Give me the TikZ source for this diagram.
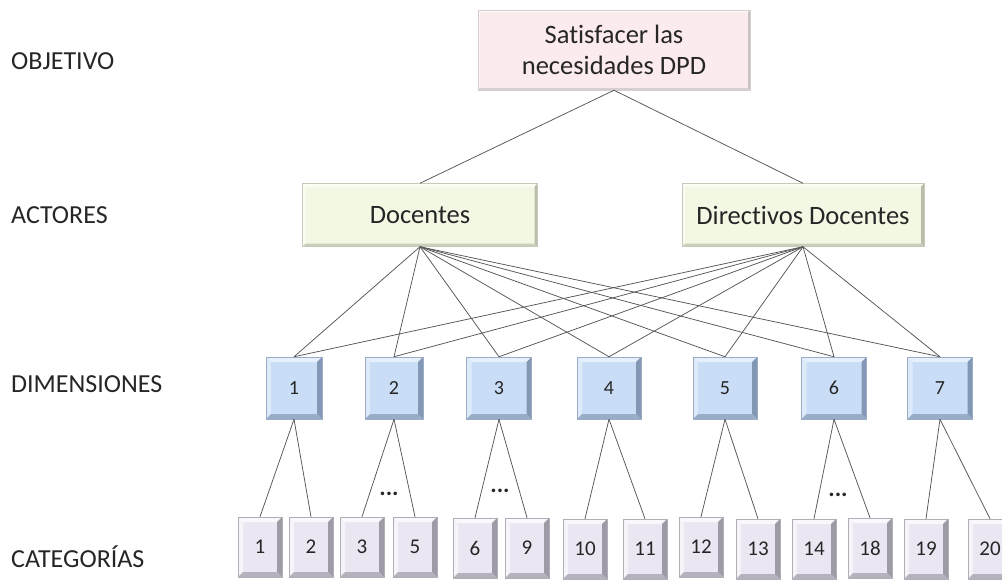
\documentclass[tikz,border=0pt]{standalone}
\usepackage{fontspec}
\setmainfont{Carlito}[Ligatures=NoCommon]
\definecolor{txt}{HTML}{262626}
\definecolor{objfill}{HTML}{FCEBEC}
\definecolor{objlight}{HTML}{FFF8F8}
\definecolor{objdark}{HTML}{C9C2C2}
\definecolor{actfill}{HTML}{F3F8E4}
\definecolor{actlight}{HTML}{FCFEF6}
\definecolor{actdark}{HTML}{B9BDA9}
\definecolor{dimfill}{HTML}{C9DDF6}
\definecolor{dimlight}{HTML}{E6F0FC}
\definecolor{dimdark}{HTML}{8398B4}
\definecolor{catfill}{HTML}{EBE7F2}
\definecolor{catlight}{HTML}{FAF8FC}
\definecolor{catdark}{HTML}{9E9AA6}
\definecolor{edge}{HTML}{555555}
\tikzset{
  % raised box: face colour, light bevel, dark bevel, bevel width
  bevelbox/.style n args={4}{
    rectangle, inner sep=0pt, fill=#1, draw=#3!80!white, line width=0.5pt,
    text=txt,
    path picture={
      \coordinate (bnw) at (path picture bounding box.north west);
      \coordinate (bne) at (path picture bounding box.north east);
      \coordinate (bsw) at (path picture bounding box.south west);
      \coordinate (bse) at (path picture bounding box.south east);
      \fill[#2] (bnw) -- (bne) -- ([shift={(-#4,-#4)}]bne) -- ([shift={(#4,-#4)}]bnw) -- cycle;
      \fill[#2!70!#1] (bnw) -- (bsw) -- ([shift={(#4,#4)}]bsw) -- ([shift={(#4,-#4)}]bnw) -- cycle;
      \fill[#3] (bne) -- (bse) -- ([shift={(-#4,#4)}]bse) -- ([shift={(-#4,-#4)}]bne) -- cycle;
      \fill[#3!70!#1] (bsw) -- (bse) -- ([shift={(-#4,#4)}]bse) -- ([shift={(#4,#4)}]bsw) -- cycle;
    }
  },
  objbox/.style={bevelbox={objfill}{objlight}{objdark}{2pt}, font=\fontsize{26.5}{31}\selectfont, align=center},
  actbox/.style={bevelbox={actfill}{actlight}{actdark}{3pt}, font=\fontsize{26.5}{31}\selectfont, minimum height=63pt},
  dimbox/.style={bevelbox={dimfill}{dimlight}{dimdark}{5pt}, font=\fontsize{20}{24}\selectfont, minimum height=62pt},
  catbox/.style={bevelbox={catfill}{catlight}{catdark}{5pt}, font=\fontsize{21}{24}\selectfont, minimum width=44pt, minimum height=60pt},
  levellabel/.style={anchor=west, text=txt, font=\fontsize{26}{30}\selectfont, inner sep=0pt},
  link/.style={draw=edge, line width=0.75pt},
  gap/.style={font=\bfseries\fontsize{24}{26}\selectfont, text=txt}
}
\begin{document}
\begin{tikzpicture}[x=1pt, y=-1pt]
\useasboundingbox (0,0) rectangle (1002,579);

% level labels
\node[levellabel] (lobj) at (11,61) {OBJETIVO};
\node[levellabel] (lact) at (11,215) {ACTORES};
\node[levellabel] (ldim) at (11,384) {DIMENSIONES};
\node[levellabel] (lcat) at (11,557) {CATEGORÍAS};

% objective
\node[objbox, minimum width=272pt, minimum height=80pt] (obj) at (614,50)
  {Satisfacer las\\necesidades DPD};

% actors
\node[actbox, minimum width=235pt] (doc) at (420,215) {Docentes};
\node[actbox, minimum width=242pt] (dir) at (803,215) {Directivos Docentes};

% dimensions
\foreach \i/\x/\w in {1/294/56, 2/394/58, 3/499/65, 4/609/64, 5/725/64, 6/834/65, 7/940/65}
  \node[dimbox, minimum width=\w pt] (d\i) at (\x,388) {\i};

% categories
\foreach \n/\x/\y in {1/260/547, 2/311/547, 3/362/547, 5/415/547, 6/475/548, 9/527/548,
                      10/585/549, 11/645/549, 12/701/547, 13/758/549, 14/814/549,
                      18/870/548, 19/926/549, 20/990/549}
  \node[catbox] (c\n) at (\x,\y) {\n};

% objective to actors
\draw[link] (obj.south) -- (doc.north);
\draw[link] (obj.south) -- (dir.north);

% actors to dimensions
\foreach \i in {1,...,7} {
  \draw[link] (doc.south) -- (d\i.north);
  \draw[link] (dir.south) -- (d\i.north);
}

% dimensions to categories
\foreach \d/\a/\b in {1/1/2, 2/3/5, 3/6/9, 4/10/11, 5/12/13, 6/14/18, 7/19/20} {
  \draw[link] (d\d.south) -- (c\a.north);
  \draw[link] (d\d.south) -- (c\b.north);
}

% omitted categories
\node[gap] (g2) at (389,494) {...};
\node[gap] (g3) at (500,491) {...};
\node[gap] (g6) at (838,495) {...};
\end{tikzpicture}
\end{document}
